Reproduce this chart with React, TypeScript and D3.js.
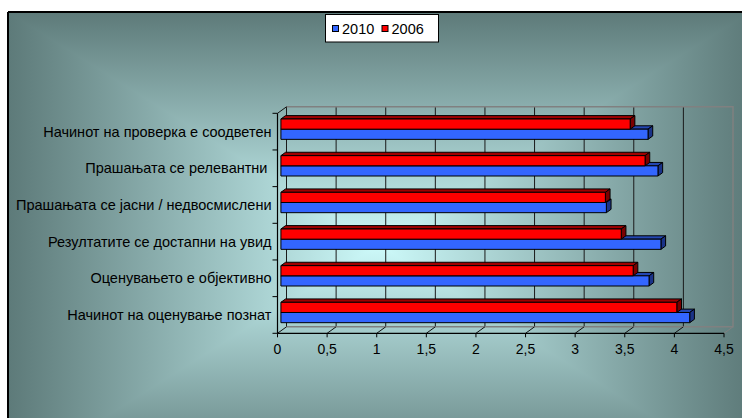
import React from "react";
import * as d3 from "d3";

const categories = [
  "Начинот на проверка е соодветен",
  "Прашањата се релевантни ",
  "Прашањата се јасни / недвосмислени",
  "Резултатите се достапни на увид",
  "Оценувањето е објективно",
  "Начинот на оценување познат",
];
const values2006 = [3.52, 3.67, 3.27, 3.43, 3.55, 3.99];
const values2010 = [3.7, 3.8, 3.28, 3.83, 3.71, 4.12];
const seriesNames = ["2010", "2006"];
const xTicks = [0, 0.5, 1, 1.5, 2, 2.5, 3, 3.5, 4, 4.5];
const xTickLabels = ["0", "0,5", "1", "1,5", "2", "2,5", "3", "3,5", "4", "4,5"];

const W = 742;
const H = 418;
const DX = 9;
const DY = -6.5;
const D1 = 0.38;
const D2 = 0.9;
const FONT = "Arial, 'Liberation Sans', sans-serif";

const colors: Record<string, { front: string; top: string; side: string }> = {
  "2010": { front: "#3366FF", top: "#2447B3", side: "#1A3388" },
  "2006": { front: "#FF0000", top: "#A00000", side: "#7A0000" },
};

export default function App() {
  const x = d3.scaleLinear().domain([0, 4.5]).range([277.5, 724]);
  const y = d3.scaleBand<string>().domain(categories).range([113.3, 333.3]);
  const inner = d3
    .scaleBand<string>()
    .domain(["2006", "2010"])
    .range([0, y.bandwidth()])
    .paddingInner(0)
    .paddingOuter(0.8);

  const yTop = 113.3;
  const yBot = 333.3;
  const P = (v: number, yf: number, d: number): [number, number] => [x(v) + d * DX, yf + d * DY];
  const pts = (arr: [number, number][]) => arr.map((p) => p.join(",")).join(" ");

  const ax = 8, ay = 12, cx = 379, cy = 245;
  const bw = 2 * (cx - ax), bh = 2 * (cy - ay);
  const dark = "#5D7A79";
  const light = "#CDFAFA";

  const bars: JSX.Element[] = [];
  categories.forEach((c, i) => {
    const series: [string, number][] = [["2010", values2010[i]], ["2006", values2006[i]]];
    series.forEach(([s, v]) => {
      const y0 = (y(c) as number) + (inner(s) as number);
      const y1 = y0 + inner.bandwidth();
      const col = colors[s];
      const front: [number, number][] = [P(0, y0, D1), P(v, y0, D1), P(v, y1, D1), P(0, y1, D1)];
      const top: [number, number][] = [P(0, y0, D1), P(v, y0, D1), P(v, y0, D2), P(0, y0, D2)];
      const side: [number, number][] = [P(v, y0, D1), P(v, y0, D2), P(v, y1, D2), P(v, y1, D1)];
      bars.push(
        <g key={c + s}>
          <polygon points={pts(top)} fill={col.top} stroke="#000" strokeWidth={1} strokeLinejoin="round" />
          <polygon points={pts(side)} fill={col.side} stroke="#000" strokeWidth={1} strokeLinejoin="round" />
          <polygon points={pts(front)} fill={col.front} stroke="#000" strokeWidth={1} strokeLinejoin="round" />
        </g>
      );
    });
  });

  const catTicks = d3.range(categories.length + 1).map((k) => yTop + k * y.step());

  return (
    <svg
      width={W}
      height={H}
      style={{ position: "absolute", left: 0, top: 0, display: "block" }}
      fontFamily={FONT}
    >
      <defs>
        <linearGradient id="gv" gradientUnits="userSpaceOnUse" x1={0} y1={ay} x2={0} y2={ay + bh}>
          <stop offset="0" stopColor={dark} />
          <stop offset="0.5" stopColor={light} />
          <stop offset="1" stopColor={dark} />
        </linearGradient>
        <linearGradient id="gh" gradientUnits="userSpaceOnUse" x1={ax} y1={0} x2={ax + bw} y2={0}>
          <stop offset="0" stopColor={dark} />
          <stop offset="0.5" stopColor={light} />
          <stop offset="1" stopColor={dark} />
        </linearGradient>
      </defs>
      <rect x={0} y={0} width={W} height={H} fill="#fff" />
      <rect x={ax} y={ay} width={bw} height={bh} fill="url(#gv)" />
      <polygon points={pts([[ax, ay], [cx, cy], [ax, ay + bh]])} fill="url(#gh)" />
      <polygon points={pts([[ax + bw, ay], [cx, cy], [ax + bw, ay + bh]])} fill="url(#gh)" />
      <line x1={ax} y1={ay} x2={W + 10} y2={ay} stroke="#000" strokeWidth={2} />
      <line x1={ax} y1={ay} x2={ax} y2={H + 10} stroke="#000" strokeWidth={2} />

      {xTicks.slice(0, -1).map((t) => {
        const [x1, y1] = P(t, yTop, 1);
        const [, y2] = P(t, yBot, 1);
        return <line key={"g" + t} x1={x1} y1={y1} x2={x1} y2={y2} stroke="#1a1a1a" strokeWidth={1} />;
      })}
      <polyline
        points={pts([P(0, yTop, 1), P(4.5, yTop, 1), P(4.5, yBot, 1), P(0, yBot, 1)])}
        fill="none"
        stroke="#808080"
        strokeWidth={1.5}
      />
      {xTicks.map((t) => {
        const [x1, y1] = P(t, yBot, 0);
        const [x2, y2] = P(t, yBot, 1);
        return (
          <line key={"f" + t} x1={x1} y1={y1} x2={x2} y2={y2} stroke={t === 4.5 ? "#808080" : "#111"} strokeWidth={1} />
        );
      })}
      <line x1={P(0, yTop, 0)[0]} y1={yTop} x2={P(0, yTop, 1)[0]} y2={P(0, yTop, 1)[1]} stroke="#111" strokeWidth={1} />

      {bars}

      <line x1={x(0)} y1={yTop} x2={x(0)} y2={yBot} stroke="#000" strokeWidth={1.2} />
      <line x1={x(0)} y1={yBot} x2={x(4.5)} y2={yBot} stroke="#000" strokeWidth={1.2} />
      {catTicks.map((t, k) => (
        <line key={"ct" + k} x1={x(0) - 5} y1={t} x2={x(0)} y2={t} stroke="#000" strokeWidth={1} />
      ))}
      {xTicks.map((t) => (
        <line key={"xt" + t} x1={x(t)} y1={yBot} x2={x(t)} y2={yBot + 4} stroke="#000" strokeWidth={1} />
      ))}
      {xTicks.map((t, k) => (
        <text key={"xl" + t} x={x(t)} y={354} textAnchor="middle" fontSize={14} fill="#000">
          {xTickLabels[k]}
        </text>
      ))}
      {categories.map((c) => (
        <text
          key={"cl" + c}
          x={271.5}
          y={(y(c) as number) + y.bandwidth() / 2 + 5}
          textAnchor="end"
          fontSize={14.5}
          fill="#000"
          style={{ whiteSpace: "pre" }}
        >
          {c}
        </text>
      ))}

      <rect x={325.5} y={14.5} width={113} height={27.5} fill="#fff" stroke="#000" strokeWidth={1} />
      {seriesNames.map((s, k) => {
        const lx = 332 + k * 49.5;
        return (
          <g key={"lg" + s}>
            <rect x={lx + 0.5} y={25.5} width={6} height={6} fill={colors[s].front} stroke="#000" strokeWidth={1} />
            <text x={lx + 10} y={33.5} fontSize={14.5} fill="#000">
              {s}
            </text>
          </g>
        );
      })}
    </svg>
  );
}
